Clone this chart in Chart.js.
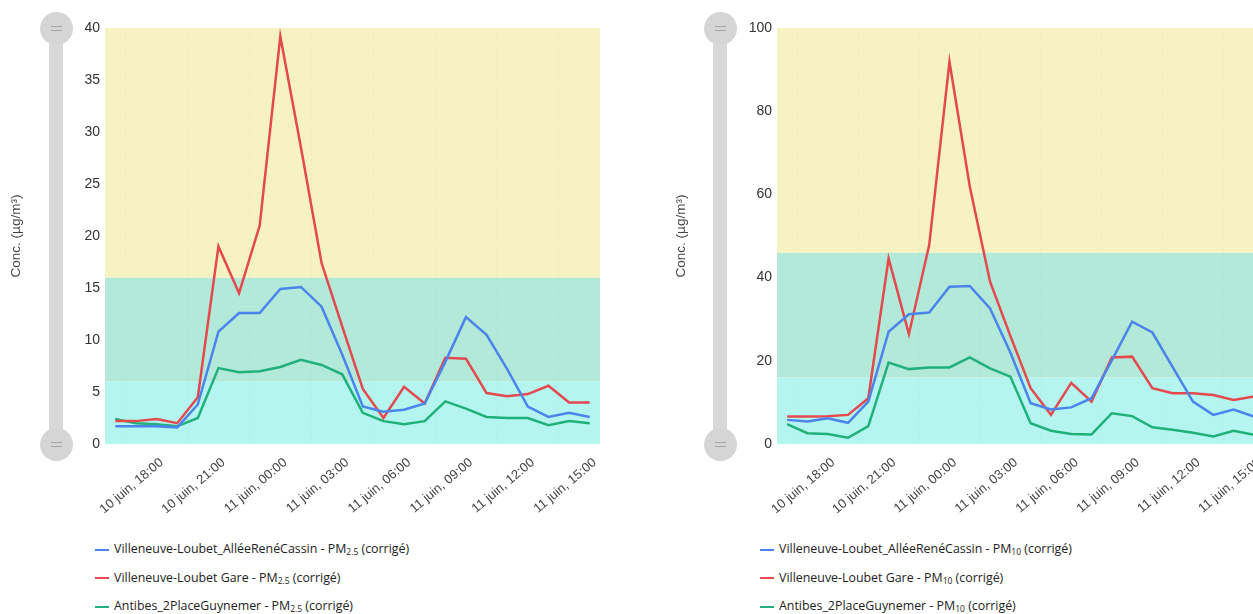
<!DOCTYPE html>
<html>
<head>
<meta charset="utf-8">
<script src="https://cdn.jsdelivr.net/npm/chart.js@4.4.1/dist/chart.umd.min.js"></script>
<style>
  html, body { margin: 0; padding: 0; background: #fff; }
  body { position: relative; width: 1253px; height: 614px; overflow: hidden;
         font-family: 'Segoe UI', 'Open Sans', sans-serif; }
  .box { position: absolute; top: 0; height: 530px; }
  .slider { position: absolute; top: 28px; height: 416px; width: 14px; background: #d9d9d9; }
  .handle { position: absolute; left: -9.5px; width: 33px; height: 33px; border-radius: 50%; background: #d5d5d5; }
  .handle::before, .handle::after { content: ''; position: absolute; left: 11px; width: 11px; height: 1.5px; background: #a9a9a9; }
  .handle::before { top: 14px; }
  .handle::after { top: 18px; }
  .legend { position: absolute; top: 535px; margin: 0; padding: 0; list-style: none; font-size: 12.4px; color: #222; }
  .legend li { height: 28.5px; line-height: 28.5px; white-space: nowrap; }
  .legend .swatch { display: inline-block; width: 14px; height: 2px; margin-right: 5px; vertical-align: middle; }
  .legend sub { font-size: 8.5px; vertical-align: baseline; position: relative; top: 2px; }
</style>
</head>
<body>
<div class="box" style="left:0;width:626px"><canvas id="pm25"></canvas></div>
<div class="box" style="left:660px;width:630px"><canvas id="pm10"></canvas></div>

<div class="slider" style="left:49px"><div class="handle" style="top:-16.5px"></div><div class="handle" style="top:399.5px"></div></div>
<div class="slider" style="left:713px"><div class="handle" style="top:-16.5px"></div><div class="handle" style="top:399.5px"></div></div>

<ul class="legend" id="legend25" style="left:95px"></ul>
<ul class="legend" id="legend10" style="left:760px"></ul>

<script>
// hours since 10 juin 00:00 (hourly means, plotted at half hour)
const hourX = [17.5, 18.5, 19.5, 20.5, 21.5, 22.5, 23.5, 24.5, 25.5, 26.5, 27.5, 28.5,
               29.5, 30.5, 31.5, 32.5, 33.5, 34.5, 35.5, 36.5, 37.5, 38.5, 39.5, 40.5];
const tickHours = [18, 21, 24, 27, 30, 33, 36, 39];
const tickLabels = ['10 juin, 18:00', '10 juin, 21:00', '11 juin, 00:00', '11 juin, 03:00',
                    '11 juin, 06:00', '11 juin, 09:00', '11 juin, 12:00', '11 juin, 15:00'];

const stations = ['Villeneuve-Loubet_AlléeRenéCassin', 'Villeneuve-Loubet Gare', 'Antibes_2PlaceGuynemer'];
const lineColors = ['#4a84ec', '#e3494d', '#20b17a'];

const pm25Cassin  = [1.7, 1.7, 1.7, 1.6, 3.8, 10.8, 12.6, 12.6, 14.9, 15.1, 13.2, 8.6,
                     3.6, 3.1, 3.3, 3.9, 7.9, 12.2, 10.5, 7.2, 3.6, 2.6, 3.0, 2.6];
const pm25Gare    = [2.2, 2.2, 2.4, 2.0, 4.5, 19.0, 14.5, 21.0, 39.2, 28.5, 17.4, 11.3,
                     5.3, 2.5, 5.5, 3.9, 8.3, 8.2, 4.9, 4.6, 4.8, 5.6, 4.0, 4.0];
const pm25Antibes = [2.4, 2.0, 1.9, 1.7, 2.5, 7.3, 6.9, 7.0, 7.4, 8.1, 7.6, 6.7,
                     3.0, 2.2, 1.9, 2.2, 4.1, 3.4, 2.6, 2.5, 2.5, 1.8, 2.2, 2.0];

const pm10Cassin  = [5.8, 5.4, 6.2, 5.1, 10.2, 27.0, 31.2, 31.6, 37.8, 38.0, 32.6, 22.0,
                     9.8, 8.3, 8.8, 11.0, 20.1, 29.4, 26.8, 18.5, 10.2, 7.0, 8.3, 6.6];
const pm10Gare    = [6.6, 6.6, 6.7, 7.0, 11.0, 44.6, 26.4, 47.8, 91.9, 61.9, 39.0, 26.0,
                     13.4, 7.0, 14.7, 10.2, 20.8, 21.0, 13.4, 12.2, 12.2, 11.8, 10.6, 11.4];
const pm10Antibes = [4.8, 2.6, 2.4, 1.5, 4.3, 19.6, 18.0, 18.4, 18.4, 20.8, 18.2, 16.2,
                     5.0, 3.2, 2.4, 2.3, 7.4, 6.7, 4.0, 3.4, 2.7, 1.8, 3.2, 2.2];

// background index bands (low → high)
const pm25Bands = [0, 6, 16, 40];
const pm10Bands = [0, 16, 46, 100];
const bandColors = ['#b4f5f0', '#b3e9d9', '#f6f2c1'];

const bandsPlugin = {
  id: 'bands',
  beforeDraw(chart, args, opts) {
    const { ctx, chartArea: a, scales: { y } } = chart;
    ctx.save();
    for (let i = 0; i < opts.limits.length - 1; i++) {
      const top = y.getPixelForValue(opts.limits[i + 1]);
      const bottom = y.getPixelForValue(opts.limits[i]);
      ctx.fillStyle = bandColors[i];
      ctx.fillRect(a.left, top, a.right - a.left, bottom - top);
    }
    ctx.restore();
  }
};

function makeChart(id, series, pollutant, bands, yMax, yStep, axisWidth, titlePad) {
  return new Chart(document.getElementById(id), {
    type: 'line',
    data: {
      datasets: series.map((values, i) => ({
        label: stations[i] + ' - ' + pollutant + ' (corrigé)',
        data: values.map((v, k) => ({ x: hourX[k], y: v })),
        borderColor: lineColors[i],
        backgroundColor: lineColors[i],
        borderWidth: 2.5,
        pointRadius: 0,
        tension: 0
      }))
    },
    options: {
      responsive: true,
      maintainAspectRatio: false,
      animation: false,
      layout: { padding: { top: 28, right: 26, bottom: 0, left: 0 } },
      plugins: {
        legend: { display: false },
        tooltip: { enabled: false },
        bands: { limits: bands }
      },
      scales: {
        x: {
          type: 'linear',
          min: 17,
          max: 41,
          afterBuildTicks: s => { s.ticks = tickHours.map(v => ({ value: v })); },
          afterFit: s => { s.height = 86; },
          grid: { color: 'rgba(0,0,0,0.035)', drawTicks: false },
          border: { display: false, dash: [2, 3] },
          ticks: {
            autoSkip: false,
            minRotation: 40,
            maxRotation: 40,
            labelOffset: 36,
            padding: 11,
            color: '#444',
            font: { size: 13 },
            callback: v => tickLabels[tickHours.indexOf(v)]
          }
        },
        y: {
          min: 0,
          max: yMax,
          afterFit: s => { s.width = axisWidth; },
          grid: { display: false, drawTicks: false },
          border: { display: false },
          ticks: { stepSize: yStep, padding: 5, color: '#333', font: { size: 14 } },
          title: {
            display: true,
            text: 'Conc. (µg/m³)',
            color: '#444',
            font: { size: 13.5 },
            padding: { top: titlePad, bottom: 0 }
          }
        }
      }
    },
    plugins: [bandsPlugin]
  });
}

function fillLegend(chart, listId, sub) {
  const ul = document.getElementById(listId);
  chart.data.datasets.forEach((ds, i) => {
    const li = document.createElement('li');
    const sw = document.createElement('span');
    sw.className = 'swatch';
    sw.style.background = ds.borderColor;
    li.appendChild(sw);
    li.appendChild(document.createTextNode(stations[i] + ' - PM'));
    const s = document.createElement('sub');
    s.textContent = sub;
    li.appendChild(s);
    li.appendChild(document.createTextNode(' (corrigé)'));
    ul.appendChild(li);
  });
}

const chart25 = makeChart('pm25', [pm25Cassin, pm25Gare, pm25Antibes], 'PM2.5', pm25Bands, 40, 5, 105, 8.4);
const chart10 = makeChart('pm10', [pm10Cassin, pm10Gare, pm10Antibes], 'PM10', pm10Bands, 100, 20, 117, 13.4);
fillLegend(chart25, 'legend25', '2.5');
fillLegend(chart10, 'legend10', '10');
</script>
</body>
</html>
